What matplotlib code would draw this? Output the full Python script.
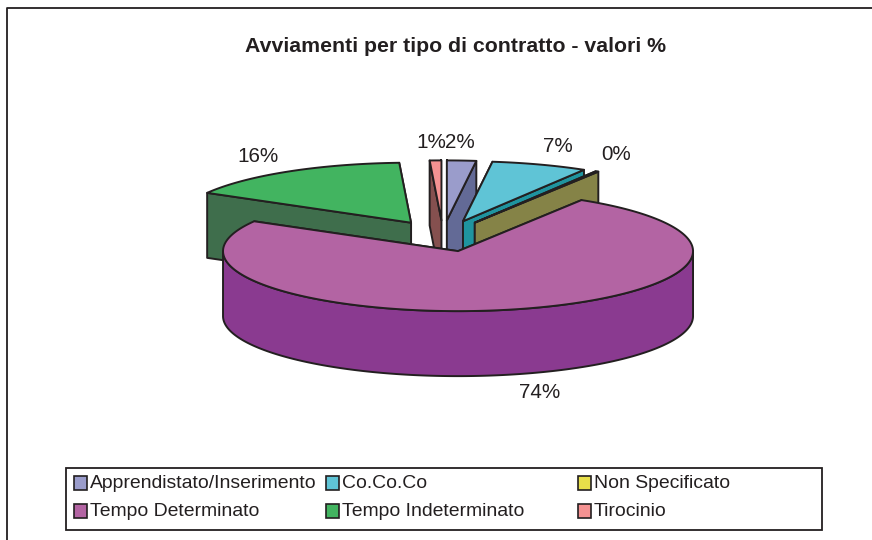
import numpy as np
import matplotlib
matplotlib.use('Agg')
import matplotlib.pyplot as plt
from matplotlib.patches import Polygon, Rectangle

plt.rcParams['font.family'] = ['Liberation Sans', 'DejaVu Sans']

title = 'Avviamenti per tipo di contratto - valori %'
names = ['Apprendistato/Inserimento', 'Co.Co.Co', 'Non Specificato',
         'Tempo Determinato', 'Tempo Indeterminato', 'Tirocinio']
values = [2.0, 6.6, 0.2, 74.4, 15.9, 0.8]
top_cols = ['#9a9ccb', '#5fc4d6', '#e8e04a', '#b364a3', '#42b460', '#f59292']
side_cols = ['#636a96', '#1f949f', '#858347', '#8a3a90', '#3f6e4c', '#85504f']

# pie geometry in pixels
cx, cy = 443, 236
rx, ry = 235, 60
depth = 65
explode = 0.26
ink = '#231f20'
label_pos = [(460, 143), (558, 147), (616, 154), (540, 393), (258, 156), (431, 143)]

fig = plt.figure(figsize=(8.72, 5.4), dpi=100)
ax = fig.add_axes([0, 0, 1, 1])
ax.set_xlim(0, 872)
ax.set_ylim(540, 0)
ax.axis('off')


def rim(x0, y0, a1, a2):
    # points on the ellipse, angles clockwise from the top
    t = np.radians(np.linspace(a1, a2, max(int(abs(a2 - a1)) * 2, 2)))
    return np.column_stack([x0 + rx * np.sin(t), y0 - ry * np.cos(t)])


# outer frame, only left and top show
ax.plot([7, 7, 872], [540, 8, 8], color=ink, lw=1.3, zorder=1)

ax.text(455, 46.5, title, ha='center', va='center', fontsize=15.3,
        fontweight='bold', color=ink)

edges = np.cumsum([0] + values) / sum(values) * 360
# back slices first, big purple one comes last
order = [4, 5, 0, 1, 2, 3]
z = 2
for i in order:
    a1, a2 = edges[i], edges[i + 1]
    mid_deg = (a1 + a2) / 2
    mid = np.radians(mid_deg)
    x0 = cx + explode * rx * np.sin(mid)
    y0 = cy - explode * ry * np.cos(mid)
    apex = np.array([[x0, y0]])
    drop = np.array([0, depth])
    # flat cut faces, the hidden one goes down first
    cuts = (a1, a2) if mid_deg < 180 else (a2, a1)
    for a in cuts:
        p = rim(x0, y0, a, a)[0]
        face = np.array([[x0, y0], p, p + drop, [x0, y0 + depth]])
        ax.add_patch(Polygon(face, closed=True, fc=side_cols[i], ec=ink,
                             lw=1.4, joinstyle='round', zorder=z))
    # curved wall for the part facing us
    w1, w2 = max(a1, 90), min(a2, 270)
    if w2 > w1:
        r = rim(x0, y0, w1, w2)
        wall = np.vstack([r, (r + drop)[::-1]])
        ax.add_patch(Polygon(wall, closed=True, fc=side_cols[i], ec=ink,
                             lw=1.4, joinstyle='round', zorder=z))
    top = np.vstack([apex, rim(x0, y0, a1, a2)])
    ax.add_patch(Polygon(top, closed=True, fc=top_cols[i], ec=ink,
                         lw=1.4, joinstyle='round', zorder=z))
    z += 1

for v, pos in zip(values, label_pos):
    ax.text(pos[0], pos[1], '%d%%' % round(v), ha='center', va='center',
            fontsize=14.9, color=ink, zorder=20)

# legend box
ax.add_patch(Rectangle((66, 468), 756, 62, fc='white', ec=ink, lw=1.3, zorder=20))
col_x = [74, 326, 578]
row_y = [484, 512]
for i, name in enumerate(names):
    lx = col_x[i % 3]
    ly = row_y[i // 3]
    ax.add_patch(Rectangle((lx, ly - 8), 13, 14, fc=top_cols[i], ec=ink,
                           lw=1.2, zorder=21))
    ax.text(lx + 16, ly - 0.5, name, ha='left', va='center', fontsize=13.95,
            color=ink, zorder=21)

fig.savefig('out.png', dpi=100)
